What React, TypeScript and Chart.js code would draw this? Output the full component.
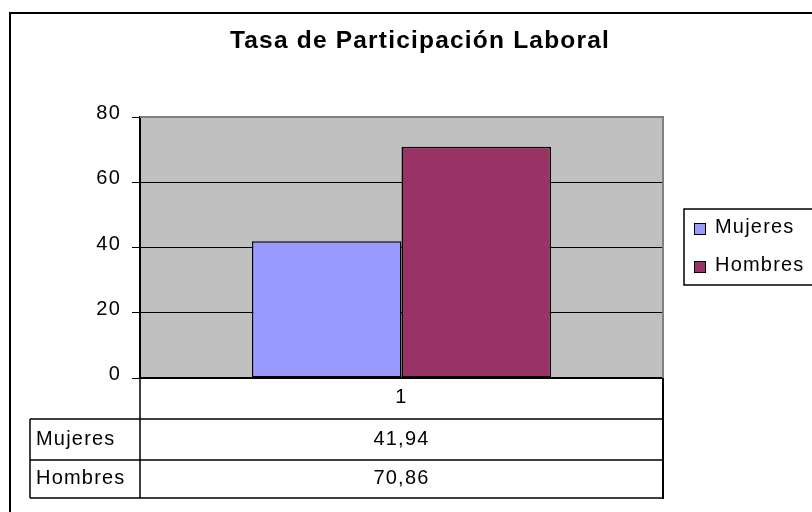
import React, { useEffect, useRef } from 'react';
import { Chart, registerables } from 'chart.js';

Chart.register(...registerables);

const chartTitle = 'Tasa de Participación Laboral';
const categories = ['1'];
const seriesNames = ['Mujeres', 'Hombres'];
const mujeresValues = [41.94];
const hombresValues = [70.86];
const seriesColors = ['#9999FF', '#993366'];
const yMin = 0;
const yMax = 80;
const yStep = 20;

const FONT = "'Liberation Sans', Arial, sans-serif";
const SPACING = '1.2px';
const fmt = (v: number) => v.toFixed(2).replace('.', ',');

const excelPlugin = {
  id: 'excelFrame',
  afterLayout(chart: any) {
    const t = chart.titleBlock;
    if (t) {
      t.left = 9;
      t.right = 831;
      t.width = 822;
    }
  },
  beforeDraw(chart: any) {
    const { ctx, chartArea: a } = chart;
    (ctx as any).letterSpacing = SPACING;
    ctx.save();
    ctx.fillStyle = '#ffffff';
    ctx.fillRect(0, 0, chart.width, chart.height);
    ctx.fillStyle = '#C0C0C0';
    ctx.fillRect(a.left, a.top, a.right - a.left, a.bottom - a.top);
    ctx.restore();
  },
  afterDraw(chart: any) {
    const { ctx, chartArea: a } = chart;
    const xScale = chart.scales.x;
    ctx.save();
    (ctx as any).letterSpacing = SPACING;

    // plot area border (top / right) in grey
    ctx.strokeStyle = '#808080';
    ctx.lineWidth = 2;
    ctx.beginPath();
    ctx.moveTo(a.left, a.top);
    ctx.lineTo(a.right, a.top);
    ctx.lineTo(a.right, a.bottom);
    ctx.stroke();

    // data table
    const tableLeft = 30;
    const headTop = a.bottom;
    const row1Top = xScale.bottom; // 419
    const row2Top = row1Top + 41;
    const tableBottom = row2Top + 38;
    ctx.strokeStyle = '#000';
    ctx.lineWidth = 1.5;
    ctx.beginPath();
    ctx.moveTo(a.left, headTop);
    ctx.lineTo(a.left, tableBottom);
    ctx.moveTo(tableLeft, row1Top);
    ctx.lineTo(tableLeft, tableBottom);
    [row1Top, row2Top, tableBottom].forEach((y) => {
      ctx.moveTo(tableLeft, y);
      ctx.lineTo(a.right, y);
    });
    ctx.stroke();
    ctx.lineWidth = 2;
    ctx.beginPath();
    ctx.moveTo(a.right, headTop);
    ctx.lineTo(a.right, tableBottom + 1);
    ctx.stroke();

    ctx.fillStyle = '#000';
    ctx.font = `20px ${FONT}`;
    ctx.textBaseline = 'middle';
    const rowsY = [(row1Top + row2Top) / 2, (row2Top + tableBottom) / 2 - 1];
    chart.data.datasets.forEach((ds: any, i: number) => {
      ctx.textAlign = 'left';
      ctx.fillText(ds.label, 36, rowsY[i]);
      ctx.textAlign = 'center';
      ds.data.forEach((v: number, j: number) => {
        ctx.fillText(fmt(v), xScale.getPixelForValue(j), rowsY[i]);
      });
    });

    // legend
    const lx = 684;
    const ly = 209;
    ctx.lineWidth = 1.5;
    ctx.strokeStyle = '#000';
    ctx.strokeRect(lx, ly, 200, 76);
    ctx.textAlign = 'left';
    ctx.textBaseline = 'alphabetic';
    chart.data.datasets.forEach((ds: any, i: number) => {
      const base = 233 + i * 38;
      ctx.fillStyle = ds.backgroundColor;
      ctx.fillRect(694, base - 10, 11, 11);
      ctx.lineWidth = 1;
      ctx.strokeRect(694.5, base - 9.5, 11, 11);
      ctx.fillStyle = '#000';
      ctx.fillText(ds.label, 715, base);
    });

    // outer chart border
    ctx.lineWidth = 2;
    ctx.strokeStyle = '#000';
    ctx.strokeRect(10, 13, 900, 600);
    ctx.restore();
  },
};

export default function App() {
  const ref = useRef<HTMLCanvasElement>(null);
  useEffect(() => {
    const config: any = {
      type: 'bar',
      data: {
        labels: categories,
        datasets: [
          {
            label: seriesNames[0],
            data: mujeresValues,
            backgroundColor: seriesColors[0],
            borderColor: '#000',
            borderWidth: 1.5,
            borderSkipped: false,
            barPercentage: 1,
            categoryPercentage: 0.572,
          },
          {
            label: seriesNames[1],
            data: hombresValues,
            backgroundColor: seriesColors[1],
            borderColor: '#000',
            borderWidth: 1.5,
            borderSkipped: false,
            barPercentage: 1,
            categoryPercentage: 0.572,
          },
        ],
      },
      options: {
        responsive: false,
        animation: false,
        layout: { padding: { top: 0, left: 0, right: 149, bottom: 93 } },
        plugins: {
          legend: { display: false },
          tooltip: { enabled: false },
          title: {
            display: true,
            text: chartTitle,
            color: '#000',
            font: { family: FONT, size: 24.5, weight: 'bold', lineHeight: 1.2 },
            padding: { top: 26.3, bottom: 61.3 },
          },
        },
        scales: {
          x: {
            grid: { display: false, drawTicks: false },
            border: { display: true, color: '#000', width: 2 },
            ticks: { color: '#000', font: { family: FONT, size: 20 }, padding: 7 },
            afterFit: (s: any) => {
              s.height = 41;
            },
          },
          y: {
            min: yMin,
            max: yMax,
            ticks: {
              stepSize: yStep,
              color: '#000',
              font: { family: FONT, size: 20 },
              padding: 11,
              labelOffset: -3.5,
            },
            grid: {
              color: (c: any) => (c.tick && c.tick.value === yMax ? '#808080' : '#000'),
              tickColor: '#000',
              tickLength: 8,
              lineWidth: 1,
            },
            border: { color: '#000', width: 2 },
            afterFit: (s: any) => {
              s.width = 140;
            },
          },
        },
      },
      plugins: [excelPlugin],
    };
    const chart = new Chart(ref.current as HTMLCanvasElement, config);
    return () => chart.destroy();
  }, []);
  return (
    <div style={{ position: 'absolute', left: 0, top: 0, width: 812, height: 512, background: '#fff' }}>
      <canvas ref={ref} width={812} height={512} style={{ display: 'block' }} />
    </div>
  );
}
